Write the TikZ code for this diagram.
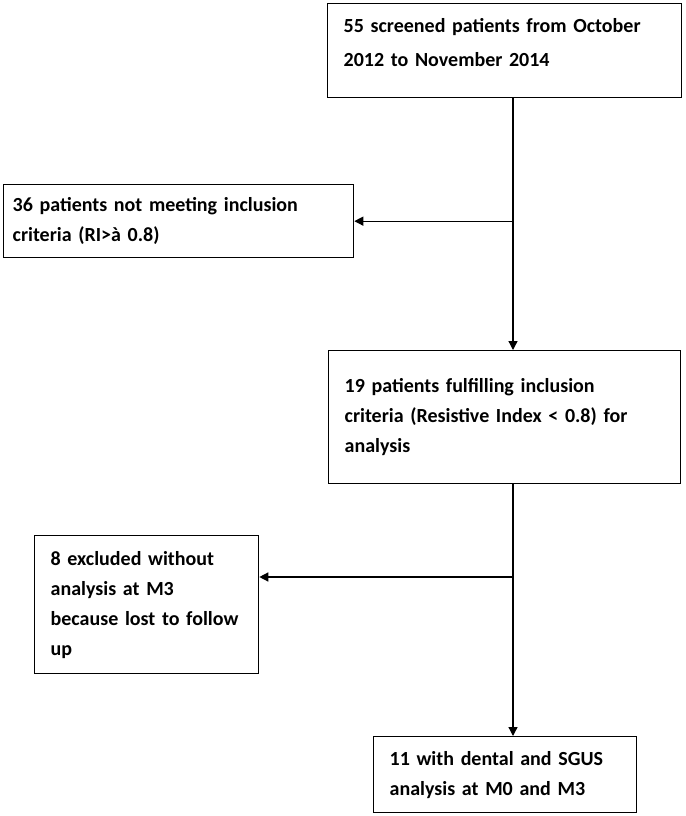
\documentclass[tikz,border=0pt]{standalone}
\usepackage{fontspec}
\setmainfont{Carlito}
\usetikzlibrary{arrows.meta}
\begin{document}
\begin{tikzpicture}[x=1pt,y=-1pt,
  box/.style={draw, line width=1.3pt, rectangle, inner xsep=16pt, inner ysep=0pt,
    align=left, anchor=north west, font=\fontsize{20}{30}\selectfont\bfseries},
  arr/.style={line width=1.3pt, -{Triangle[length=9pt,width=9pt]}}]
\useasboundingbox (0,0) rectangle (685,816);
\node[box, minimum width=354pt, minimum height=94pt, text width=322pt] (b1) at (327,3)
  {55 screened patients from October\\[4pt]2012 to November 2014\\[-14pt]\mbox{}};
\node[box, inner xsep=9pt, minimum width=350pt, minimum height=73pt, text width=332pt] (b2) at (3,184)
  {36 patients not meeting inclusion\\criteria (RI>à 0.8)};
\node[box, minimum width=352pt, minimum height=133pt, text width=320pt] (b3) at (328,350)
  {19 patients fulfilling inclusion\\criteria (Resistive Index < 0.8) for\\analysis};
\node[box, minimum width=224pt, minimum height=138pt, text width=192pt] (b4) at (34,535)
  {8 excluded without\\analysis at M3\\because lost to follow\\up};
\node[box, minimum width=263pt, minimum height=76pt, text width=231pt] (b5) at (373,736)
  {11 with dental and SGUS\\analysis at M0 and M3};
\coordinate (spine) at (513,0);
\coordinate (j2) at (513,577);
\draw[arr] (b1.south -| spine) -- (b3.north -| spine);
\draw[arr] (spine |- b2.east) -- (b2.east);
\draw[arr] (b3.south -| spine) -- (b5.north -| spine);
\draw[arr] (j2) -- (j2 -| b4.east);
\end{tikzpicture}
\end{document}
